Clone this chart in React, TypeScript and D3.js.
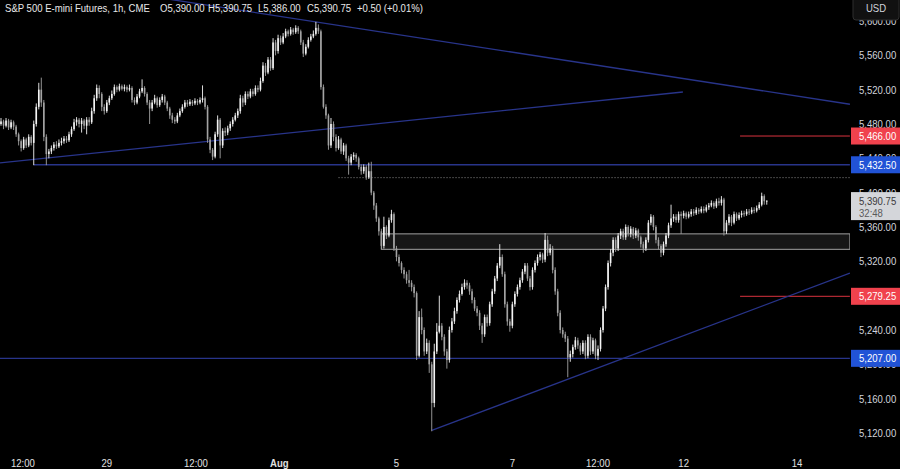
import React from 'react';
import * as d3 from 'd3';

// ---- data (1h bars, S&P 500 E-mini) ----
const firstOpen = 5480;
const closes = [
  5483, 5478, 5484, 5476, 5482, 5477, 5468, 5460, 5452, 5462,
  5455, 5465, 5458, 5480, 5500, 5520, 5505, 5465, 5445, 5448,
  5452, 5456, 5454, 5458, 5460, 5463, 5461, 5468, 5474, 5482,
  5485, 5480, 5484, 5478, 5485, 5482, 5495, 5510, 5522, 5515,
  5500, 5495, 5505, 5510, 5515, 5523, 5520, 5524, 5521, 5523,
  5520, 5522, 5508, 5505, 5512, 5518, 5522, 5515, 5505, 5498,
  5505, 5510, 5502, 5508, 5512, 5505, 5498, 5490, 5485, 5483,
  5490, 5495, 5500, 5505, 5503, 5506, 5504, 5507, 5505, 5508,
  5510, 5500, 5462, 5450, 5442, 5468, 5485, 5455, 5472, 5470,
  5475, 5480, 5485, 5490, 5495, 5510, 5505, 5515, 5512, 5518,
  5515, 5522, 5520, 5530, 5548, 5540, 5555, 5545, 5575, 5565,
  5580, 5575, 5582, 5588, 5585, 5590, 5587, 5592, 5588, 5575,
  5562, 5570, 5578, 5582, 5585, 5592, 5588, 5523, 5500, 5490,
  5455, 5480, 5465, 5452, 5462, 5448, 5455, 5440, 5435, 5442,
  5444, 5440, 5430, 5425, 5430, 5418, 5425, 5400, 5385, 5370,
  5355, 5338, 5360, 5350, 5368, 5375, 5335, 5325, 5318, 5310,
  5305, 5298, 5295, 5290, 5283, 5210, 5255, 5240, 5215, 5225,
  5200, 5155, 5215, 5238, 5245, 5232, 5215, 5205, 5240, 5250,
  5262, 5275, 5282, 5290, 5295, 5292, 5285, 5275, 5265, 5260,
  5245, 5235, 5255, 5248, 5270, 5285, 5300, 5315, 5325, 5305,
  5270, 5250, 5245, 5270, 5282, 5290, 5298, 5308, 5315, 5300,
  5290, 5310, 5318, 5325, 5328, 5322, 5345, 5330, 5335, 5310,
  5285, 5260, 5240, 5235, 5230, 5208, 5212, 5220, 5228, 5222,
  5215, 5225, 5210, 5232, 5215, 5228, 5210, 5218, 5240, 5265,
  5290, 5318, 5330, 5345, 5335, 5350, 5355, 5348, 5360, 5352,
  5358, 5350, 5356, 5348, 5340, 5335, 5345, 5365, 5372, 5360,
  5345, 5338, 5330, 5340, 5350, 5362, 5370, 5372, 5368, 5375,
  5373, 5376, 5372, 5375, 5378, 5376, 5380, 5378, 5381, 5379,
  5383, 5385, 5388, 5384, 5390, 5388, 5392, 5355, 5365, 5372,
  5365, 5375, 5370, 5374, 5376, 5375, 5378, 5377, 5380, 5379,
  5382, 5386, 5396, 5390, 5390.75,
];
const highs = [
  5487, 5485, 5487, 5486, 5485, 5484, 5479, 5470, 5462, 5465,
  5464, 5468, 5467, 5484, 5504, 5528, 5534, 5508, 5468, 5451,
  5455, 5459, 5460, 5462, 5464, 5466, 5466, 5471, 5477, 5486,
  5488, 5487, 5487, 5486, 5488, 5488, 5499, 5514, 5526, 5525,
  5517, 5503, 5508, 5513, 5519, 5526, 5525, 5527, 5526, 5526,
  5525, 5526, 5524, 5511, 5515, 5521, 5532, 5524, 5517, 5508,
  5508, 5514, 5512, 5511, 5515, 5514, 5507, 5500, 5493, 5488,
  5493, 5498, 5503, 5508, 5508, 5509, 5508, 5510, 5509, 5511,
  5525, 5512, 5502, 5465, 5452, 5471, 5490, 5487, 5475, 5476,
  5478, 5483, 5488, 5493, 5498, 5514, 5513, 5518, 5518, 5521,
  5521, 5525, 5525, 5534, 5552, 5551, 5558, 5558, 5580, 5578,
  5584, 5583, 5586, 5591, 5590, 5593, 5592, 5595, 5594, 5590,
  5578, 5573, 5581, 5585, 5589, 5599, 5596, 5590, 5526, 5503,
  5492, 5487, 5483, 5468, 5466, 5464, 5458, 5457, 5443, 5445,
  5447, 5446, 5442, 5433, 5433, 5432, 5435, 5436, 5402, 5388,
  5372, 5358, 5372, 5362, 5371, 5380, 5377, 5338, 5328, 5320,
  5313, 5308, 5310, 5298, 5293, 5285, 5262, 5265, 5243, 5230,
  5228, 5203, 5224, 5248, 5280, 5248, 5235, 5218, 5244, 5254,
  5266, 5278, 5286, 5294, 5299, 5298, 5295, 5288, 5278, 5268,
  5263, 5248, 5258, 5258, 5273, 5288, 5303, 5318, 5340, 5328,
  5308, 5273, 5253, 5273, 5285, 5293, 5301, 5311, 5318, 5318,
  5303, 5313, 5321, 5328, 5331, 5330, 5353, 5350, 5340, 5338,
  5313, 5288, 5263, 5243, 5238, 5233, 5216, 5223, 5232, 5231,
  5225, 5228, 5228, 5235, 5235, 5231, 5230, 5222, 5243, 5268,
  5293, 5321, 5334, 5348, 5348, 5353, 5358, 5358, 5363, 5362,
  5361, 5360, 5359, 5358, 5350, 5343, 5348, 5368, 5375, 5374,
  5362, 5348, 5340, 5343, 5353, 5365, 5386, 5375, 5375, 5378,
  5378, 5379, 5378, 5378, 5381, 5381, 5383, 5382, 5384, 5384,
  5386, 5388, 5391, 5390, 5393, 5394, 5396, 5394, 5368, 5375,
  5374, 5378, 5377, 5377, 5379, 5379, 5381, 5381, 5383, 5383,
  5385, 5389, 5400, 5398, 5390.75,
];
const lows = [
  5478, 5474, 5476, 5473, 5474, 5473, 5465, 5455, 5448, 5450,
  5452, 5453, 5455, 5432, 5477, 5497, 5500, 5460, 5432, 5440,
  5445, 5449, 5451, 5452, 5455, 5457, 5458, 5459, 5465, 5472,
  5478, 5476, 5470, 5474, 5468, 5478, 5480, 5492, 5507, 5510,
  5495, 5491, 5493, 5502, 5508, 5513, 5517, 5518, 5519, 5518,
  5517, 5518, 5505, 5502, 5503, 5510, 5516, 5512, 5502, 5480,
  5495, 5503, 5499, 5500, 5505, 5502, 5495, 5486, 5481, 5480,
  5481, 5488, 5493, 5498, 5500, 5501, 5501, 5502, 5502, 5503,
  5505, 5497, 5458, 5446, 5438, 5440, 5465, 5440, 5452, 5466,
  5467, 5472, 5477, 5483, 5487, 5492, 5500, 5502, 5509, 5510,
  5512, 5513, 5517, 5518, 5528, 5536, 5538, 5542, 5543, 5560,
  5562, 5572, 5573, 5580, 5582, 5583, 5584, 5585, 5585, 5572,
  5558, 5560, 5568, 5576, 5580, 5583, 5585, 5520, 5498, 5486,
  5450, 5452, 5460, 5448, 5450, 5445, 5444, 5437, 5421, 5432,
  5438, 5436, 5427, 5421, 5422, 5415, 5416, 5397, 5380, 5366,
  5350, 5334, 5335, 5346, 5348, 5365, 5332, 5320, 5314, 5306,
  5300, 5294, 5290, 5285, 5278, 5205, 5208, 5235, 5210, 5212,
  5190, 5122, 5150, 5212, 5236, 5228, 5210, 5195, 5202, 5237,
  5247, 5259, 5272, 5280, 5287, 5288, 5281, 5271, 5262, 5256,
  5240, 5225, 5232, 5244, 5245, 5267, 5282, 5297, 5312, 5302,
  5266, 5245, 5238, 5242, 5267, 5279, 5287, 5295, 5305, 5297,
  5286, 5287, 5307, 5315, 5321, 5318, 5319, 5326, 5327, 5306,
  5281, 5256, 5236, 5231, 5226, 5185, 5203, 5208, 5217, 5218,
  5211, 5212, 5206, 5207, 5211, 5212, 5206, 5205, 5215, 5237,
  5262, 5287, 5314, 5326, 5331, 5332, 5346, 5345, 5345, 5349,
  5348, 5346, 5347, 5344, 5336, 5330, 5332, 5342, 5362, 5356,
  5341, 5334, 5325, 5327, 5337, 5347, 5359, 5366, 5365, 5365,
  5352, 5370, 5369, 5370, 5372, 5373, 5374, 5375, 5376, 5376,
  5377, 5380, 5383, 5381, 5382, 5385, 5385, 5350, 5352, 5362,
  5361, 5363, 5367, 5368, 5371, 5372, 5373, 5374, 5375, 5376,
  5377, 5380, 5384, 5386, 5386,
];

const xTickIndex = [8.7, 42, 77.4, 110.5, 157, 203, 237, 271, 316];
const xTickLabels = ['12:00', '29', '12:00', 'Aug', '5', '7', '12:00', '12', '14'];
const yTicks = [5120, 5160, 5200, 5240, 5280, 5320, 5360, 5400, 5440, 5480, 5520, 5560, 5600];

const blueLevels = [5432.5, 5207];
const blueLevelStart = [13, -1];
const redLevels = [5466, 5279.25];
const redLevelStart = 293.4;
const zoneLow = 5334;
const zoneHigh = 5352;
const zoneStart = 151;
const dottedLevel = 5417.5;
const dottedStart = 134;
const lastIndexRight = 337;
const trendLines: [number, number][][] = [
  [[60, 5628.4], [337, 5503]],
  [[-0.4, 5434.6], [270.7, 5517.3]],
  [[171, 5123], [337, 5306.4]],
];
const headerParts = ['S&P 500 E-mini Futures, 1h, CME', 'O5,390.00', 'H5,390.75', 'L5,386.00', 'C5,390.75', '+0.50 (+0.01%)'];
const headerX = [5, 160, 208, 258, 307, 357];
const countdown = '32:48';

const W = 900;
const H = 469;
const PLOT_R = 850;
const FONT = '"Liberation Sans", Arial, sans-serif';
const SX = 0.87;

const fmt = d3.format(',.2f');

function T(props: { x: number; y: number; size?: number; fill?: string; anchor?: string; weight?: string | number; children: React.ReactNode }) {
  const { x, y, size = 11, fill = '#d1d4dc', anchor = 'start', weight = 'normal', children } = props;
  return (
    <text
      transform={`translate(${x},${y}) scale(${SX},1)`}
      fontFamily={FONT}
      fontSize={size}
      fill={fill}
      textAnchor={anchor as any}
      fontWeight={weight as any}
    >
      {children}
    </text>
  );
}

export default function App() {
  const x = d3.scaleLinear().domain([0, 316]).range([1, 797]);
  const y = d3.scaleLinear().domain([5120, 5600]).range([433, 21]);

  const bars = closes.map((c, i) => ({
    i,
    o: i === 0 ? firstOpen : closes[i - 1],
    c,
    h: highs[i],
    l: lows[i],
  }));

  const line = d3
    .line<[number, number]>()
    .x((d) => x(d[0]))
    .y((d) => y(d[1]));

  const blue = '#28348a';
  const red = '#d9333f';
  const up = '#f4f4f4';
  const down = '#a3a3a3';
  const bodyW = 1.6;

  const labelBox = (p: number, bg: string, key: string) => (
    <g key={key}>
      <rect x={851} y={y(p) - 8.5} width={49} height={17} fill={bg} />
      <T x={859} y={y(p) + 4} fill="#ffffff">{fmt(p)}</T>
    </g>
  );

  const last = closes[closes.length - 1];

  return (
    <svg
      width={W}
      height={H}
      style={{ position: 'absolute', left: 0, top: 0, background: '#000' }}
    >
      <rect x={0} y={0} width={W} height={H} fill="#000" />
      <defs>
        <clipPath id="plot">
          <rect x={0} y={0} width={PLOT_R} height={452} />
        </clipPath>
      </defs>

      <g clipPath="url(#plot)">
        <rect
          x={x(zoneStart)}
          y={y(zoneHigh)}
          width={x(lastIndexRight) - x(zoneStart)}
          height={y(zoneLow) - y(zoneHigh)}
          fill="#161616"
          stroke="#a0a0a0"
          strokeWidth={1}
        />
        <line
          x1={x(dottedStart)}
          x2={x(lastIndexRight)}
          y1={y(dottedLevel)}
          y2={y(dottedLevel)}
          stroke="#8c8c8c"
          strokeWidth={1}
          strokeDasharray="1 2"
        />
        {blueLevels.map((p, k) => (
          <line
            key={'b' + k}
            x1={x(blueLevelStart[k])}
            x2={x(lastIndexRight)}
            y1={y(p)}
            y2={y(p)}
            stroke={blue}
            strokeWidth={1.3}
          />
        ))}
        {redLevels.map((p, k) => (
          <line
            key={'r' + k}
            x1={x(redLevelStart)}
            x2={x(lastIndexRight)}
            y1={y(p)}
            y2={y(p)}
            stroke={red}
            strokeWidth={1}
          />
        ))}
        {trendLines.map((tl, k) => (
          <path key={'t' + k} d={line(tl) || ''} stroke={blue} strokeWidth={1.3} fill="none" />
        ))}
        {bars.map((b) => {
          const cx = x(b.i);
          const col = b.c >= b.o ? up : down;
          const top = y(Math.max(b.o, b.c));
          const bh = Math.max(1, Math.abs(y(b.o) - y(b.c)));
          return (
            <g key={b.i}>
              <line x1={cx} x2={cx} y1={y(b.h)} y2={y(b.l)} stroke={col} strokeWidth={0.9} />
              <rect x={cx - bodyW / 2} y={top} width={bodyW} height={bh} fill={col} />
            </g>
          );
        })}
      </g>

      {headerParts.map((t, k) => (
        <T key={'h' + k} x={headerX[k]} y={12} fill="#e8e8e8">{t}</T>
      ))}

      {yTicks.map((p) => (
        <T key={'y' + p} x={859} y={y(p) + 4}>{fmt(p)}</T>
      ))}

      {redLevels.map((p, k) => labelBox(p, '#f0424d', 'rl' + k))}
      {blueLevels.map((p, k) => labelBox(p, '#2153d6', 'bl' + k))}
      <g>
        <rect x={851} y={y(last) - 8.5} width={49} height={28} fill="#d4d6da" />
        <T x={859} y={y(last) + 4} fill="#3a3a3a">{fmt(last)}</T>
        <T x={859} y={y(last) + 16} fill="#5a5a5a">{countdown}</T>
      </g>

      <rect x={853} y={-4} width={46} height={24} rx={3} fill="#111111" stroke="#2f2f2f" />
      <T x={876} y={12} anchor="middle">USD</T>

      {xTickLabels.map((t, k) => (
        <T
          key={'x' + k}
          x={x(xTickIndex[k])}
          y={467}
          anchor="middle"
          weight={t === 'Aug' ? 'bold' : 'normal'}
          fill="#e0e0e0"
        >
          {t}
        </T>
      ))}
    </svg>
  );
}
